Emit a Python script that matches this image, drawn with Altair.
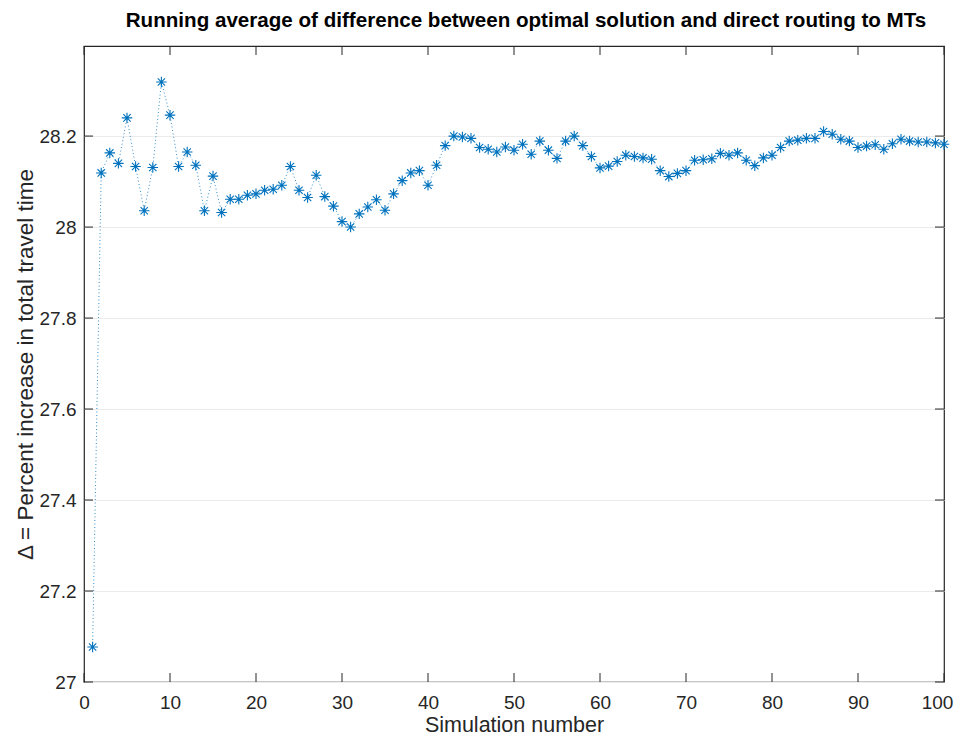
import altair as alt
import pandas as pd

sim = list(range(1, 101))
delta = [
    27.077, 28.119, 28.163, 28.140, 28.240, 28.133, 28.036, 28.131, 28.319, 28.246,
    28.133, 28.165, 28.136, 28.036, 28.112, 28.032, 28.061, 28.061, 28.070, 28.073,
    28.081, 28.083, 28.092, 28.133, 28.081, 28.065, 28.114, 28.067, 28.046, 28.012,
    28.000, 28.029, 28.044, 28.060, 28.037, 28.073, 28.102, 28.119, 28.124, 28.092,
    28.136, 28.179, 28.200, 28.198, 28.195, 28.175, 28.171, 28.165, 28.176, 28.169,
    28.182, 28.160, 28.189, 28.169, 28.151, 28.189, 28.200, 28.179, 28.155, 28.130,
    28.134, 28.144, 28.158, 28.155, 28.152, 28.149, 28.124, 28.111, 28.118, 28.124,
    28.147, 28.148, 28.150, 28.162, 28.158, 28.163, 28.147, 28.135, 28.152, 28.158,
    28.175, 28.189, 28.191, 28.195, 28.195, 28.210, 28.204, 28.193, 28.189, 28.175,
    28.178, 28.181, 28.171, 28.183, 28.193, 28.189, 28.187, 28.187, 28.185, 28.182,
]
x_ticks = [0, 10, 20, 30, 40, 50, 60, 70, 80, 90, 100]
y_ticks = [27.0, 27.2, 27.4, 27.6, 27.8, 28.0, 28.2]
x_domain = [0, 100]
y_domain = [27.0, 28.398]

W, H = 860, 636
BLUE = "#0072BD"
AX = "#262626"
FONT = "Liberation Sans"

df = pd.DataFrame({"sim": sim, "delta": delta})
xt = pd.DataFrame({"t": x_ticks})
yt = pd.DataFrame({"t": y_ticks})

xs = alt.Scale(domain=x_domain, nice=False, zero=False)
ys = alt.Scale(domain=y_domain, nice=False, zero=False)

x_enc = alt.X("sim:Q", scale=xs, title="Simulation number",
              axis=alt.Axis(values=x_ticks, grid=False, ticks=False, domain=False,
                            labelPadding=11, format="d", labelFlush=False,
                            labelOffset={"condition": {"test": "datum.value == 100", "value": -7},
                                         "value": 0},
                            titleX=W / 2, titleY=49, titleBaseline="alphabetic",
                            titleAlign="center", titleFontSize=21.5))
y_enc = alt.Y("delta:Q", scale=ys, title="Δ =  Percent increase in total travel time",
              axis=alt.Axis(values=y_ticks, grid=True, gridColor="#ebebeb", gridWidth=1,
                            ticks=False, domain=False, labelPadding=8, labelFlush=False,
                            titleX=-52, titleY=H / 2, titleAngle=270,
                            titleBaseline="alphabetic", titleAlign="center",
                            titleFontSize=22.5,
                            labelExpr="format(datum.value, '.1~f')"))

line = alt.Chart(df).mark_line(color=BLUE, strokeWidth=1, strokeDash=[1, 2.5], opacity=0.8).encode(
    x=x_enc, y=y_enc)

asterisk = "M-1,0L1,0M0,-1L0,1M-0.7,-0.7L0.7,0.7M-0.7,0.7L0.7,-0.7"
pts = alt.Chart(df).mark_point(shape=asterisk, filled=False, color=BLUE, size=110,
                               strokeWidth=1.1, opacity=1).encode(
    x=alt.X("sim:Q", scale=xs), y=alt.Y("delta:Q", scale=ys))

tl = 9
bx = alt.Chart(xt).mark_rule(color=AX, strokeWidth=1).encode(
    x=alt.X("t:Q", scale=xs), y=alt.value(H), y2=alt.value(H - tl))
tx = alt.Chart(xt).mark_rule(color=AX, strokeWidth=1).encode(
    x=alt.X("t:Q", scale=xs), y=alt.value(0), y2=alt.value(tl))
ly = alt.Chart(yt).mark_rule(color=AX, strokeWidth=1).encode(
    y=alt.Y("t:Q", scale=ys), x=alt.value(0), x2=alt.value(tl))
ry = alt.Chart(yt).mark_rule(color=AX, strokeWidth=1).encode(
    y=alt.Y("t:Q", scale=ys), x=alt.value(W), x2=alt.value(W - tl))

chart = alt.layer(line, pts, bx, tx, ly, ry).properties(
    width=W, height=H,
    autosize=alt.AutoSizeParams(type="none"),
    padding={"left": 76, "top": 38, "right": 10, "bottom": 55},
    title=alt.Title("Running average of difference between optimal solution and direct routing to MTs",
                    font=FONT, fontSize=20.6, fontWeight="bold", color="black", offset=14, dx=12),
).configure_view(stroke=AX, strokeWidth=1.2).configure_axis(
    labelFont=FONT, titleFont=FONT, labelFontSize=19, titleFontSize=20,
    labelColor=AX, titleColor=AX, titleFontWeight="normal"
)

chart.save("out.html", embed_options={"renderer": "svg", "actions": False})
